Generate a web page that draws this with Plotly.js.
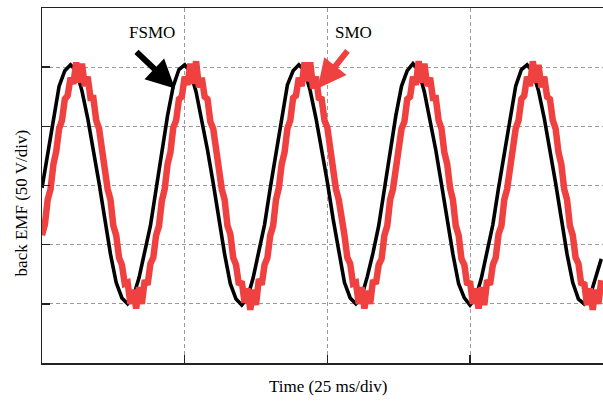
<!DOCTYPE html>
<html><head><meta charset="utf-8">
<script src="https://cdn.plot.ly/plotly-3.0.1.min.js"></script>
<style>html,body{margin:0;padding:0;background:#fff;}#chart{width:603px;height:401px;}</style>
</head><body><div id="chart"></div>
<script>
// back EMF estimated by the fuzzy sliding-mode observer (V), sampled every 1 ms from t = 0
const fsmoStartMs = 0;
const fsmoStepMs = 1;
const fsmoValues = [
  -2, 27, 58, 84, 97, 102, 97, 80, 57, 31, 2, -28, -58, -82, -95, -100, -94, -78, -57, -34,
  -3, 28, 59, 84, 98, 102, 96, 79, 56, 30, 2, -29, -58, -83, -96, -101, -95, -78, -56, -33,
  -2, 27, 58, 85, 97, 102, 97, 80, 57, 31, 3, -28, -57, -82, -95, -100, -94, -77, -57, -34,
  -3, 27, 59, 84, 97, 103, 97, 79, 56, 30, 1, -29, -58, -83, -95, -101, -95, -78, -57, -33,
  -2, 28, 58, 84, 98, 102, 96, 80, 57, 31, 2, -28, -58, -82, -96, -100, -94, -78, -62
];
// back EMF estimated by the conventional sliding-mode observer (V), sampled every 0.5 ms from t = 0
const smoStartMs = 0;
const smoStepMs = 0.5;
const smoValues = [
  -42, -33, -12, -3, 18, 29, 48, 55, 73, 76, 91, 86, 104, 87, 103, 84, 92, 74, 74, 55,
  48, 28, 18, -3, -12, -34, -42, -61, -67, -83, -82, -100, -88, -104, -86, -100, -80, -84, -66, -61,
  -42, -34, -13, -3, 18, 28, 49, 55, 73, 75, 92, 85, 103, 86, 105, 83, 91, 75, 73, 54,
  48, 29, 18, -3, -12, -34, -41, -61, -67, -84, -81, -99, -87, -105, -88, -101, -79, -84, -67, -61,
  -42, -34, -12, -2, 18, 28, 48, 55, 74, 76, 91, 84, 104, 88, 104, 82, 92, 74, 73, 55,
  49, 28, 17, -3, -12, -33, -42, -61, -66, -83, -82, -100, -86, -104, -89, -100, -80, -83, -67, -62,
  -42, -34, -12, -3, 18, 28, 48, 54, 73, 75, 92, 85, 105, 87, 103, 84, 91, 74, 74, 55,
  48, 28, 18, -2, -12, -34, -42, -62, -67, -84, -81, -100, -87, -104, -86, -101, -80, -84, -67, -61,
  -41, -34, -12, -3, 18, 29, 48, 55, 73, 76, 92, 84, 105, 87, 102, 83, 92, 75, 73, 55,
  48, 28, 18, -3, -12, -34, -42, -61, -66, -84, -82, -101, -87, -105, -88, -100, -80
];
const xRangeMs = [0, 98.3];
const yRangeV = [-150, 150];
const xTickMs = [25, 50, 75];
const yTickV = [-100, -50, 0, 50, 100];
const xTitle = 'Time (25 ms/div)';
const yTitle = 'back EMF (50 V/div)';
const fsmoLabel = 'FSMO';
const smoLabel = 'SMO';

const red = 'rgb(240,65,65)';
const serif = '"Liberation Serif", "Times New Roman", Times, serif';

const traces = [
  {type:'scatter', mode:'lines', name:fsmoLabel, x0:fsmoStartMs, dx:fsmoStepMs, y:fsmoValues,
   line:{color:'#000', width:3.6}},
  {type:'scatter', mode:'lines', name:smoLabel, x0:smoStartMs, dx:smoStepMs, y:smoValues,
   line:{color:red, width:6.5}}
];

const axisCommon = {
  showticklabels:false, ticks:'inside', ticklen:8, tickwidth:1.5, tickcolor:'#222',
  showgrid:true, gridcolor:'#9a9a9a', gridwidth:1, griddash:'4px,3px',
  zeroline:false, showline:true, linecolor:'#222', linewidth:1.5, fixedrange:true
};

const layout = {
  width:603, height:401,
  margin:{l:42, r:0, t:8, b:38, pad:0},
  paper_bgcolor:'#fff', plot_bgcolor:'#fff',
  showlegend:false,
  font:{family:serif, size:17, color:'#000'},
  xaxis:Object.assign({}, axisCommon, {range:xRangeMs, tickvals:xTickMs, mirror:true}),
  yaxis:Object.assign({}, axisCommon, {range:yRangeV, tickvals:yTickV, mirror:false}),
  annotations:[
    {xref:'x', yref:'y', x:23.3, y:82, ax:-40, ay:-38, text:'', showarrow:true,
     arrowhead:2, arrowsize:0.95, arrowwidth:6, arrowcolor:'#000'},
    {xref:'x', yref:'y', x:19.2, y:129, text:fsmoLabel, showarrow:false,
     font:{family:serif, size:17, color:'#000'}},
    {xref:'x', yref:'y', x:48.3, y:82, ax:31, ay:-39, text:'', showarrow:true,
     arrowhead:2, arrowsize:0.95, arrowwidth:6, arrowcolor:red},
    {xref:'x', yref:'y', x:54.5, y:129, text:smoLabel, showarrow:false,
     font:{family:serif, size:17, color:'#000'}},
    {xref:'paper', yref:'paper', x:0.509, y:-0.065, xanchor:'center', yanchor:'middle',
     text:xTitle, showarrow:false, font:{family:serif, size:17, color:'#000'}},
    {xref:'paper', yref:'paper', x:-0.0365, y:0.451, xanchor:'center', yanchor:'middle',
     textangle:-90, text:yTitle, showarrow:false, font:{family:serif, size:17, color:'#000'}}
  ]
};

Plotly.newPlot('chart', traces, layout, {displayModeBar:false, staticPlot:true});
</script>
</body></html>
